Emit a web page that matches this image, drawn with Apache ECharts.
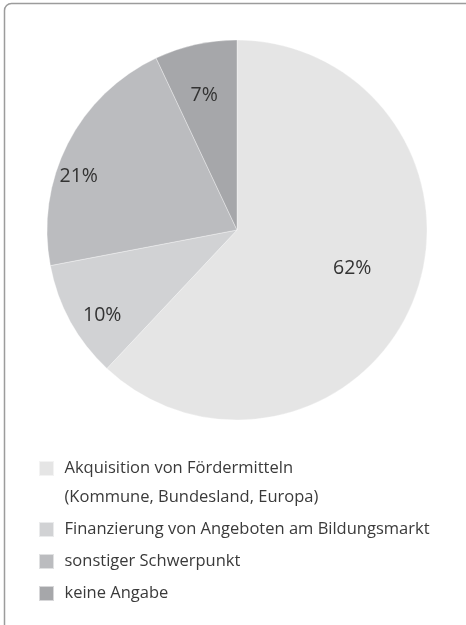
<!DOCTYPE html>
<html>
<head>
<meta charset="utf-8">
<script src="https://cdn.jsdelivr.net/npm/echarts@6/dist/echarts.min.js"></script>
<style>
html,body{margin:0;padding:0;background:#fff;}
#chart{width:466px;height:625px;}
</style>
</head>
<body>
<div id="chart"></div>
<script>
// Data
const categories = [
  'Akquisition von Fördermitteln\n(Kommune, Bundesland, Europa)',
  'Finanzierung von Angeboten am Bildungsmarkt',
  'sonstiger Schwerpunkt',
  'keine Angabe'
];
const values = [62, 10, 21, 7];
const colors = ['#e5e5e5', '#d1d2d4', '#bbbcbf', '#a6a7aa'];
// Layout: label distance (fraction of radius) and angular nudge (degrees)
const labelRadiusFrac = [0.64, 0.84, 0.88, 0.73];
const labelAngleNudge = [-3, -3.6, -8.2, -1.1];
const CX = 237, CY = 230, R = 190;

const chart = echarts.init(document.getElementById('chart'), null, {renderer: 'canvas'});
const FONT = '"Open Sans", "Noto Sans", sans-serif';

const option = {
  animation: false,
  backgroundColor: '#ffffff',
  graphic: [{
    type: 'rect',
    shape: {x: 4.5, y: 3.5, width: 520, height: 700, r: 7},
    style: {fill: 'none', stroke: '#9c9c9c', lineWidth: 1.5},
    silent: true
  }],
  legend: {
    orient: 'vertical',
    left: 33,
    top: 420,
    itemWidth: 26,
    itemHeight: 15,
    itemGap: 3,
    icon: 'path://M0 0H10V10H0Z',
    symbolKeepAspect: true,
    selectedMode: false,
    textStyle: {fontFamily: FONT, fontSize: 16.5, color: '#3a3a3a', lineHeight: 29},
    formatter: function (name) {
      return name === categories[0] ? ' \n' + name : name;
    },
    data: categories
  },
  series: [{
    type: 'pie',
    center: [CX, CY],
    radius: [0, R],
    startAngle: 90,
    clockwise: true,
    silent: true,
    itemStyle: {borderColor: 'rgba(255,255,255,0.55)', borderWidth: 0.6},
    label: {
      show: true,
      position: 'inside',
      formatter: '{c}%',
      fontFamily: FONT,
      fontSize: 19.5,
      color: '#333333'
    },
    labelLine: {show: false},
    labelLayout: function (p) {
      const lr = p.labelRect;
      const lx = lr.x + lr.width / 2, ly = lr.y + lr.height / 2;
      let a = Math.atan2(lx - CX, -(ly - CY));
      a += labelAngleNudge[p.dataIndex] * Math.PI / 180;
      const f = labelRadiusFrac[p.dataIndex] * R;
      return {x: CX + Math.sin(a) * f, y: CY - Math.cos(a) * f, align: 'center', verticalAlign: 'middle'};
    },
    data: categories.map((c, i) => ({name: c, value: values[i], itemStyle: {color: colors[i]}}))
  }]
};
chart.setOption(option);
</script>
</body>
</html>
